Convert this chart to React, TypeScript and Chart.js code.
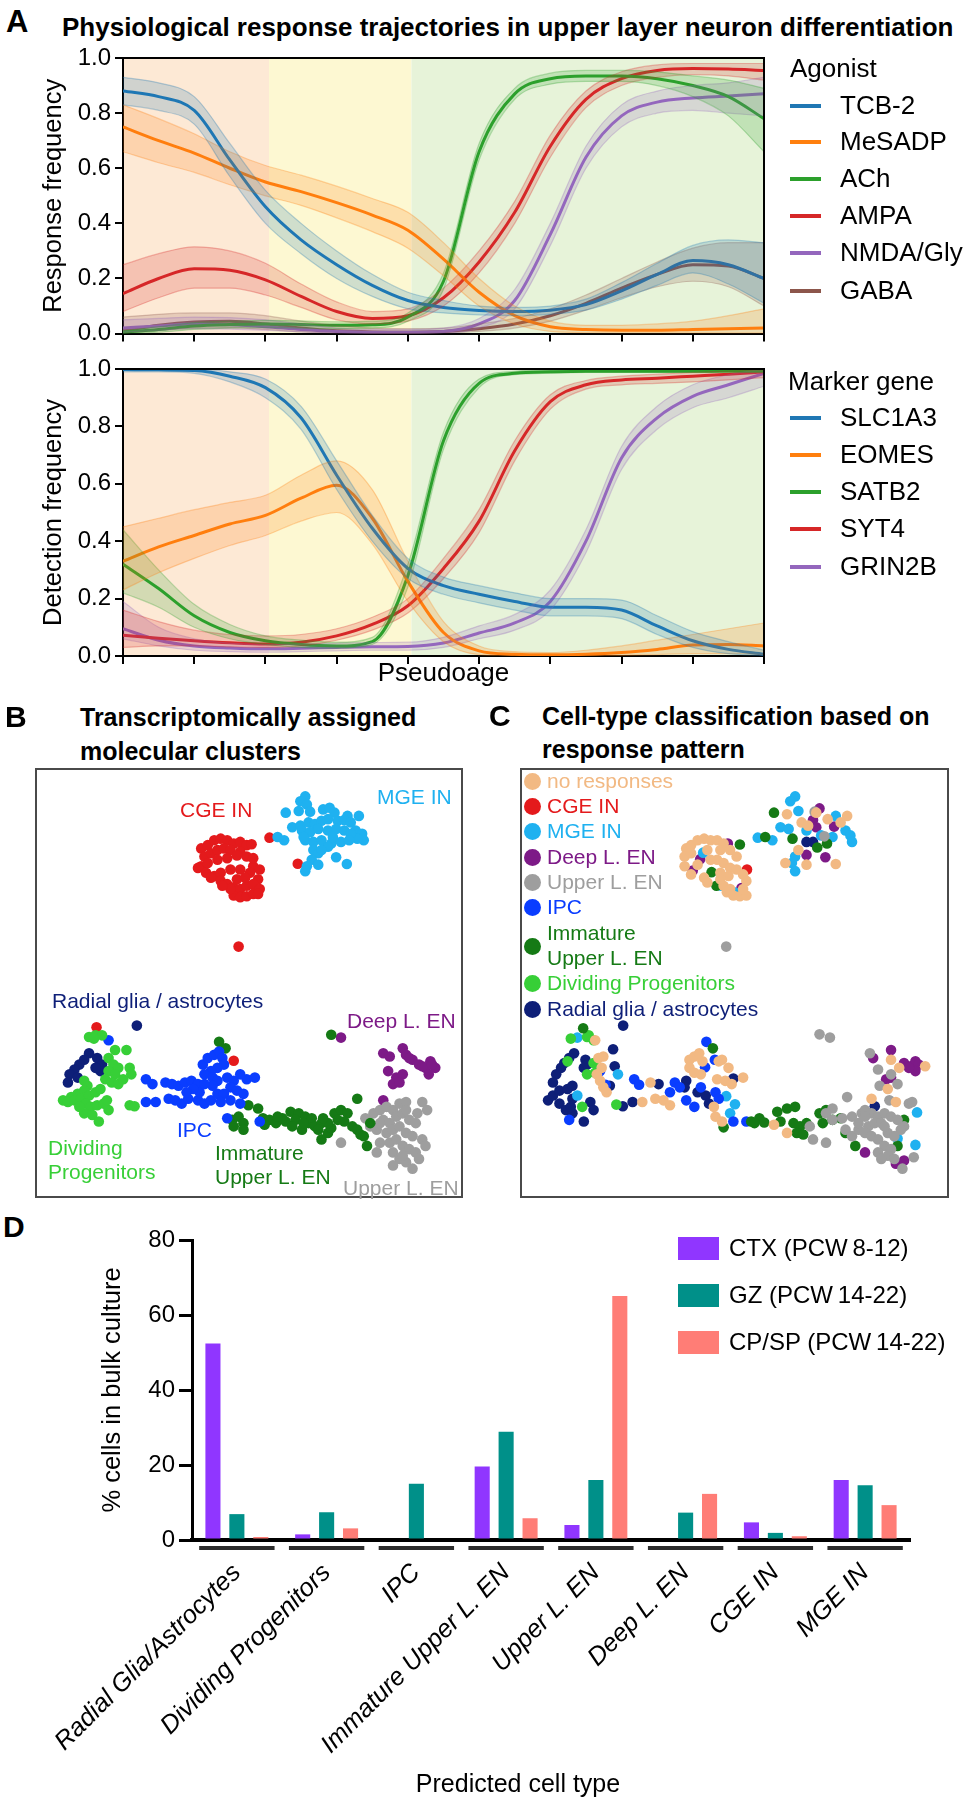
import React, { useEffect, useRef } from "react";
import { Chart, registerables } from "chart.js";
Chart.register(...registerables);

const FONT = "'Liberation Sans', Arial, Helvetica, sans-serif";

// ---------------- Panel A data ----------------
const PSEUDOAGE = [0, 0.5, 1, 1.5, 2, 2.5, 3, 3.5, 4, 4.5, 5, 5.5, 6, 6.5, 7, 7.5, 8, 8.5, 9];
const STAGE_BOUNDS = [0, 2.05, 4.05, 9];
const STAGE_COLORS = ["#fde9d5", "#fdf8d2", "#e7f3d9"];

const AGONISTS = ["TCB-2", "MeSADP", "ACh", "AMPA", "NMDA/Gly", "GABA"];
const AGONIST_COLORS = ["#1f77b4", "#ff7f0e", "#2ca02c", "#d62728", "#9467bd", "#8c564b"];

const TCB2_MEAN = [0.88, 0.86, 0.81, 0.63, 0.46, 0.34, 0.25, 0.175, 0.12, 0.095, 0.084, 0.08, 0.085, 0.105, 0.155, 0.215, 0.265, 0.25, 0.2];
const TCB2_LO = [0.83, 0.81, 0.76, 0.57, 0.40, 0.29, 0.20, 0.135, 0.09, 0.075, 0.068, 0.065, 0.07, 0.085, 0.125, 0.175, 0.22, 0.18, 0.11];
const TCB2_HI = [0.93, 0.91, 0.86, 0.69, 0.52, 0.40, 0.30, 0.215, 0.15, 0.12, 0.10, 0.095, 0.10, 0.125, 0.185, 0.255, 0.32, 0.34, 0.33];

const MESADP_MEAN = [0.75, 0.70, 0.655, 0.60, 0.55, 0.515, 0.475, 0.43, 0.375, 0.27, 0.15, 0.065, 0.025, 0.015, 0.012, 0.012, 0.015, 0.018, 0.02];
const MESADP_LO = [0.66, 0.62, 0.585, 0.54, 0.50, 0.465, 0.42, 0.37, 0.31, 0.21, 0.10, 0.035, 0.008, 0.003, 0.002, 0.002, 0.002, 0.002, 0.002];
const MESADP_HI = [0.83, 0.78, 0.725, 0.66, 0.61, 0.575, 0.535, 0.49, 0.44, 0.33, 0.20, 0.10, 0.045, 0.03, 0.03, 0.035, 0.045, 0.065, 0.09];

const ACH_MEAN = [0.005, 0.015, 0.028, 0.033, 0.035, 0.033, 0.03, 0.032, 0.06, 0.19, 0.66, 0.87, 0.925, 0.935, 0.935, 0.925, 0.9, 0.86, 0.78];
const ACH_LO = [0.0, 0.005, 0.015, 0.02, 0.022, 0.02, 0.018, 0.02, 0.045, 0.16, 0.63, 0.85, 0.905, 0.915, 0.915, 0.9, 0.86, 0.79, 0.66];
const ACH_HI = [0.01, 0.025, 0.04, 0.045, 0.048, 0.046, 0.043, 0.045, 0.075, 0.22, 0.69, 0.89, 0.945, 0.955, 0.955, 0.95, 0.935, 0.92, 0.89];

const AMPA_MEAN = [0.145, 0.2, 0.235, 0.23, 0.195, 0.135, 0.08, 0.055, 0.065, 0.13, 0.26, 0.44, 0.68, 0.85, 0.925, 0.955, 0.962, 0.96, 0.955];
const AMPA_LO = [0.08, 0.13, 0.165, 0.165, 0.14, 0.095, 0.05, 0.035, 0.045, 0.1, 0.22, 0.4, 0.64, 0.82, 0.9, 0.93, 0.94, 0.935, 0.92];
const AMPA_HI = [0.25, 0.29, 0.315, 0.3, 0.255, 0.18, 0.115, 0.08, 0.09, 0.165, 0.3, 0.48, 0.72, 0.88, 0.95, 0.975, 0.98, 0.98, 0.98];

const NMDA_MEAN = [0.02, 0.028, 0.035, 0.032, 0.025, 0.015, 0.008, 0.005, 0.005, 0.008, 0.035, 0.12, 0.36, 0.64, 0.79, 0.84, 0.855, 0.862, 0.87];
const NMDA_LO = [0.005, 0.012, 0.018, 0.016, 0.012, 0.006, 0.002, 0.001, 0.001, 0.002, 0.02, 0.09, 0.32, 0.6, 0.75, 0.8, 0.81, 0.8, 0.79];
const NMDA_HI = [0.05, 0.055, 0.06, 0.058, 0.05, 0.035, 0.02, 0.015, 0.015, 0.02, 0.055, 0.16, 0.4, 0.68, 0.83, 0.88, 0.9, 0.91, 0.93];

const GABA_MEAN = [0.01, 0.03, 0.042, 0.045, 0.035, 0.02, 0.01, 0.006, 0.005, 0.008, 0.018, 0.035, 0.065, 0.11, 0.165, 0.215, 0.25, 0.245, 0.2];
const GABA_LO = [0.002, 0.012, 0.02, 0.022, 0.015, 0.006, 0.002, 0.001, 0.001, 0.003, 0.008, 0.02, 0.045, 0.085, 0.13, 0.17, 0.19, 0.17, 0.1];
const GABA_HI = [0.06, 0.07, 0.075, 0.075, 0.065, 0.045, 0.03, 0.02, 0.018, 0.02, 0.035, 0.055, 0.09, 0.14, 0.2, 0.26, 0.31, 0.33, 0.33];

const MARKERS = ["SLC1A3", "EOMES", "SATB2", "SYT4", "GRIN2B"];
const MARKER_COLORS = ["#1f77b4", "#ff7f0e", "#2ca02c", "#d62728", "#9467bd"];

const SLC1A3_MEAN = [0.998, 0.997, 0.995, 0.975, 0.935, 0.83, 0.63, 0.445, 0.305, 0.245, 0.215, 0.19, 0.17, 0.17, 0.16, 0.105, 0.053, 0.023, 0.006];
const SLC1A3_LO = [0.99, 0.99, 0.985, 0.955, 0.9, 0.79, 0.58, 0.4, 0.27, 0.215, 0.185, 0.16, 0.14, 0.14, 0.13, 0.075, 0.03, 0.008, 0.001];
const SLC1A3_HI = [1.0, 1.0, 1.0, 0.99, 0.965, 0.87, 0.68, 0.49, 0.34, 0.275, 0.245, 0.22, 0.2, 0.2, 0.195, 0.14, 0.085, 0.05, 0.02];

const EOMES_MEAN = [0.33, 0.38, 0.42, 0.46, 0.49, 0.55, 0.595, 0.48, 0.26, 0.082, 0.018, 0.006, 0.004, 0.006, 0.012, 0.023, 0.038, 0.04, 0.035];
const EOMES_LO = [0.23, 0.29, 0.34, 0.385, 0.42, 0.47, 0.5, 0.39, 0.19, 0.05, 0.005, 0.001, 0.0, 0.001, 0.002, 0.005, 0.008, 0.008, 0.005];
const EOMES_HI = [0.45, 0.48, 0.51, 0.535, 0.56, 0.63, 0.68, 0.58, 0.33, 0.12, 0.035, 0.015, 0.012, 0.02, 0.035, 0.055, 0.075, 0.095, 0.115];

const SATB2_MEAN = [0.32, 0.235, 0.14, 0.082, 0.053, 0.04, 0.035, 0.05, 0.28, 0.75, 0.95, 0.985, 0.99, 0.992, 0.992, 0.992, 0.992, 0.993, 0.993];
const SATB2_LO = [0.22, 0.17, 0.1, 0.06, 0.04, 0.03, 0.027, 0.04, 0.24, 0.72, 0.935, 0.98, 0.985, 0.988, 0.988, 0.988, 0.988, 0.989, 0.989];
const SATB2_HI = [0.44, 0.3, 0.18, 0.11, 0.07, 0.055, 0.048, 0.065, 0.32, 0.78, 0.965, 0.992, 0.997, 0.997, 0.997, 0.997, 0.997, 0.997, 0.997];

const SYT4_MEAN = [0.072, 0.062, 0.053, 0.046, 0.042, 0.048, 0.07, 0.11, 0.175, 0.305, 0.47, 0.715, 0.886, 0.945, 0.962, 0.968, 0.975, 0.982, 0.99];
const SYT4_LO = [0.03, 0.035, 0.035, 0.032, 0.03, 0.035, 0.055, 0.09, 0.15, 0.27, 0.43, 0.68, 0.86, 0.93, 0.945, 0.95, 0.955, 0.962, 0.97];
const SYT4_HI = [0.16, 0.12, 0.09, 0.075, 0.07, 0.075, 0.095, 0.135, 0.2, 0.34, 0.51, 0.75, 0.91, 0.96, 0.975, 0.982, 0.988, 0.993, 0.997];

const GRIN2B_MEAN = [0.095, 0.055, 0.035, 0.028, 0.025, 0.027, 0.03, 0.032, 0.033, 0.045, 0.08, 0.115, 0.19, 0.4, 0.69, 0.83, 0.905, 0.945, 0.985];
const GRIN2B_LO = [0.06, 0.035, 0.02, 0.015, 0.013, 0.015, 0.018, 0.02, 0.02, 0.03, 0.06, 0.09, 0.16, 0.36, 0.65, 0.79, 0.865, 0.9, 0.94];
const GRIN2B_HI = [0.19, 0.1, 0.06, 0.045, 0.04, 0.042, 0.045, 0.047, 0.048, 0.065, 0.105, 0.145, 0.23, 0.44, 0.73, 0.87, 0.945, 0.98, 1.0];

// ---------------- Panel B / C data (embedding coordinates) ----------------
const CLASS_NAMES = ["no responses", "CGE IN", "MGE IN", "Deep L. EN", "Upper L. EN", "IPC", "Immature Upper L. EN", "Dividing Progenitors", "Radial glia / astrocytes"];
const CLASS_COLORS = ["#f2b983", "#e41a1c", "#1fb1f0", "#7d1a87", "#9e9e9e", "#0a3dff", "#157a15", "#37cf37", "#0e1f78"];

const B_CGE = [[600,465],[620,455],[640,440],[660,435],[680,440],[700,450],[720,445],[740,455],[755,452],[610,490],[630,480],[650,470],[670,465],[690,470],[720,475],[740,490],[600,520],[620,510],[650,500],[680,495],[760,520],[780,530],[590,525],[615,540],[640,550],[660,540],[690,530],[720,530],[750,540],[775,560],[630,555],[660,565],[680,575],[700,585],[720,590],[740,580],[760,575],[780,590],[700,610],[720,615],[740,612],[760,605],[775,605],[690,590],[665,580],[710,560],[735,555],[760,495],[710,487],[810,432],[897,512],[715,767],[278,1015],[700,1118]];
const B_MGE = [[920,305],[905,320],[925,330],[860,355],[900,350],[935,352],[975,345],[995,340],[1010,355],[1050,365],[1085,365],[880,400],[905,395],[930,385],[950,390],[970,380],[990,375],[1020,380],[1040,378],[1060,385],[1075,410],[1095,420],[1100,440],[1080,435],[910,410],[935,415],[960,405],[990,410],[1015,405],[1040,410],[1060,420],[920,440],[945,445],[970,440],[1000,450],[1030,445],[1055,440],[945,470],[960,480],[940,500],[925,520],[920,535],[960,515],[1015,492],[1048,513],[990,460],[970,470],[835,430],[855,440],[915,430],[1005,430]];
const B_RADIAL = [[402,1010],[255,1095],[240,1115],[225,1130],[210,1145],[195,1160],[190,1185],[280,1110],[295,1130],[290,1150],[275,1140],[220,1170]];
const B_DIVIDING = [[255,1045],[275,1040],[295,1040],[270,1050],[335,1085],[370,1085],[315,1110],[330,1130],[345,1140],[315,1150],[335,1160],[380,1140],[385,1160],[305,1175],[325,1185],[345,1190],[360,1175],[250,1195],[240,1210],[220,1220],[200,1230],[175,1240],[190,1245],[210,1240],[230,1235],[255,1225],[275,1215],[290,1205],[245,1250],[260,1260],[280,1255],[300,1250],[315,1270],[240,1280],[265,1285],[285,1305],[310,1240],[225,1260],[380,1255],[395,1258],[240,1180]];
const B_IPC = [[315,1055],[430,1175],[450,1190],[430,1245],[460,1245],[490,1185],[510,1190],[530,1195],[550,1185],[570,1180],[590,1190],[500,1235],[520,1240],[540,1250],[560,1235],[590,1240],[610,1250],[630,1240],[650,1220],[605,1130],[620,1110],[640,1100],[655,1090],[665,1110],[670,1130],[650,1140],[630,1150],[610,1160],[635,1170],[650,1180],[680,1170],[700,1180],[690,1200],[710,1210],[730,1220],[670,1220],[690,1240],[720,1250],[740,1175],[765,1170],[720,1160],[680,1295],[780,1305],[635,1195],[595,1215],[575,1205],[555,1215],[610,1190],[660,1245]];
const B_IMMATURE = [[655,1060],[675,1080],[1000,1038],[745,1255],[775,1265],[695,1300],[715,1290],[730,1310],[700,1320],[730,1330],[790,1295],[810,1300],[830,1310],[860,1305],[795,1315],[875,1275],[900,1280],[920,1290],[940,1295],[890,1300],[880,1320],[910,1330],[930,1310],[950,1320],[970,1310],[960,1330],[970,1360],[990,1340],[1000,1325],[1010,1280],[1030,1270],[1050,1280],[1020,1300],[1040,1305],[1065,1320],[1080,1235],[1080,1330],[1090,1345],[1110,1380],[1120,1310],[1100,1350],[850,1295],[835,1290],[915,1310],[990,1310],[975,1295]];
const B_DEEP = [[1030,1047],[1160,1095],[1180,1105],[1220,1080],[1230,1100],[1250,1115],[1270,1130],[1290,1140],[1305,1120],[1320,1140],[1300,1160],[1280,1135],[1175,1150],[1200,1170],[1220,1160],[1190,1190],[1210,1185],[1160,1240],[1240,1110],[1310,1130]];
const B_UPPER = [[1130,1280],[1150,1270],[1170,1260],[1190,1270],[1210,1250],[1230,1245],[1280,1245],[1295,1270],[1160,1300],[1180,1310],[1200,1290],[1220,1280],[1240,1300],[1260,1310],[1140,1330],[1170,1340],[1190,1330],[1210,1320],[1230,1340],[1250,1350],[1280,1360],[1290,1380],[1150,1370],[1180,1370],[1200,1360],[1220,1380],[1240,1390],[1260,1400],[1140,1400],[1190,1400],[1210,1420],[1230,1430],[1250,1450],[1270,1420],[1120,1320],[1105,1295],[1030,1370],[1230,1270],[1265,1280],[1190,1440],[1150,1310],[1220,1410]];

const C_NONE = [[585,465],[600,455],[620,440],[640,435],[660,440],[680,440],[700,450],[580,490],[600,480],[650,470],[690,470],[720,470],[740,490],[580,520],[620,515],[680,500],[700,510],[720,525],[740,530],[600,545],[640,555],[690,540],[715,550],[760,545],[770,565],[650,570],[700,580],[710,600],[730,610],[750,612],[770,610],[720,590],[760,590],[660,500],[690,560],[985,355],[1080,365],[1020,375],[940,385],[960,395],[890,510],[955,515],[1045,513],[930,470],[895,360],[1060,385],[315,1110],[330,1105],[325,1140],[310,1160],[320,1180],[330,1200],[340,1215],[305,1055],[450,1245],[475,1185],[490,1235],[515,1240],[535,1255],[595,1115],[610,1105],[625,1095],[635,1120],[595,1140],[610,1155],[630,1160],[685,1120],[695,1115],[680,1175],[705,1180],[725,1190],[760,1170],[675,1290],[695,1305],[670,1260],[855,1315],[895,1340],[1155,1235],[1230,1245],[1215,1115],[1240,1140],[1320,1135],[1205,1205],[715,1140]];
const C_UPPER = [[1010,428],[980,352],[708,767],[995,1037],[1027,1047],[1150,1095],[1175,1145],[1215,1160],[1180,1195],[1235,1190],[1080,1230],[1210,1240],[1270,1250],[1280,1245],[1035,1265],[1015,1280],[1035,1300],[1065,1295],[1095,1290],[1125,1280],[1135,1270],[1155,1280],[1175,1290],[1195,1280],[1215,1290],[1235,1300],[1255,1320],[1075,1330],[1095,1350],[1115,1330],[1145,1320],[1165,1310],[1185,1310],[1135,1340],[1155,1350],[1175,1360],[1205,1340],[1225,1350],[1245,1330],[1195,1380],[1215,1390],[1175,1400],[1205,1410],[1185,1420],[1225,1420],[1250,1450],[1285,1415],[965,1320],[975,1360],[1015,1370],[1115,1310],[1135,1290],[1195,1320]];
const C_CGE = [[772,530]];
const C_MGE = [[920,305],[905,320],[930,350],[875,400],[900,405],[955,410],[1045,365],[1075,410],[1090,425],[1095,445],[1035,430],[920,490],[910,510],[920,535],[805,432],[850,440],[1000,425],[637,478],[693,580],[733,600],[250,1047],[375,1160],[250,1225],[708,1227],[735,1252],[720,1280],[1295,1277],[1235,1357],[1290,1377]];
const C_DEEP = [[713,450],[628,498],[605,533],[755,587],[995,342],[975,378],[985,400],[1040,398],[955,485],[1013,492],[1160,1110],[1215,1085],[1255,1125],[1275,1135],[1290,1120],[1300,1130],[1290,1150],[1270,1140],[1200,1175],[1215,1170],[1135,1400],[1230,1435],[1255,1425]];
const C_IPC = [[647,1060],[673,1115],[643,1138],[320,1150],[337,1192],[425,1175],[440,1192],[535,1215],[550,1185],[565,1200],[585,1240],[610,1260],[630,1200],[675,1215],[685,1235],[730,1305],[770,1305],[225,1300]];
const C_IMMATURE = [[750,453],[663,538],[678,580],[855,355],[828,430],[912,435],[988,462],[1018,450],[268,1018],[667,1080],[700,1323],[785,1305],[810,1295],[795,1310],[825,1308],[865,1275],[895,1265],[920,1260],[875,1305],[915,1310],[935,1320],[925,1340],[955,1310],[945,1345],[995,1280],[1015,1270],[1035,1300],[1060,1295],[1005,1310],[1105,1380],[1075,1340],[1235,1380],[1255,1300]];
const C_DIVIDING = [[230,1050],[280,1045],[300,1055],[285,1040],[300,1125],[280,1160],[305,1155],[370,1253],[265,1260],[220,1120]];
const C_RADIAL = [[955,445],[975,445],[391,1010],[360,1083],[240,1095],[225,1110],[210,1125],[200,1140],[185,1160],[175,1185],[275,1115],[270,1140],[280,1130],[365,1135],[350,1195],[160,1240],[175,1225],[195,1210],[220,1205],[235,1195],[195,1250],[215,1270],[235,1280],[230,1260],[235,1235],[270,1305],[290,1245],[300,1270],[390,1258],[420,1245],[500,1190],[585,1180],[580,1200],[620,1215],[645,1225],[730,1173],[655,1250],[1165,1258]];

// ---------------- Panel D data ----------------
const CELL_TYPES = ["Radial Glia/Astrocytes", "Dividing Progenitors", "IPC", "Immature Upper L. EN", "Upper L. EN", "Deep L. EN", "CGE IN", "MGE IN"];
const BULK_SOURCES = ["CTX (PCW\u20098-12)", "GZ (PCW\u200914-22)", "CP/SP (PCW\u200914-22)"];
const BULK_COLORS = ["#9036ff", "#009089", "#ff7d76"];
const CTX_PCT = [52.4, 1.5, 0, 19.6, 4.0, 0, 4.7, 16.0];
const GZ_PCT = [6.9, 7.4, 15.0, 28.9, 16.0, 7.3, 1.9, 14.6];
const CPSP_PCT = [0.8, 3.1, 0, 5.8, 65.1, 12.3, 1.0, 9.3];
const BULK_Y_TICKS = [0, 20, 40, 60, 80];

// ---------------- helpers ----------------
function rgba(hex: string, a: number) {
  const n = parseInt(hex.slice(1), 16);
  return `rgba(${(n >> 16) & 255},${(n >> 8) & 255},${n & 255},${a})`;
}

const stagePlugin = {
  id: "stages",
  beforeDraw(chart: any) {
    const { ctx, chartArea, scales } = chart;
    const x = scales.x;
    ctx.save();
    for (let i = 0; i < STAGE_COLORS.length; i++) {
      const x0 = x.getPixelForValue(STAGE_BOUNDS[i]);
      const x1 = x.getPixelForValue(STAGE_BOUNDS[i + 1]);
      ctx.fillStyle = STAGE_COLORS[i];
      ctx.fillRect(x0, chartArea.top, x1 - x0, chartArea.bottom - chartArea.top);
    }
    ctx.restore();
  },
};

const framePlugin = {
  id: "frame",
  afterDraw(chart: any) {
    const { ctx, chartArea } = chart;
    ctx.save();
    ctx.strokeStyle = "#000";
    ctx.lineWidth = 2;
    ctx.beginPath();
    ctx.moveTo(chartArea.left, chartArea.top);
    ctx.lineTo(chartArea.right, chartArea.top);
    ctx.lineTo(chartArea.right, chartArea.bottom);
    ctx.stroke();
    ctx.restore();
  },
};

const boxPlugin = {
  id: "box",
  afterDraw(chart: any) {
    const { ctx, width, height } = chart;
    ctx.save();
    ctx.strokeStyle = "#4a4a4a";
    ctx.lineWidth = 2;
    ctx.strokeRect(1, 1, width - 2, height - 2);
    ctx.restore();
  },
};

const underlinePlugin = {
  id: "underline",
  afterDraw(chart: any) {
    const { ctx, chartArea, scales } = chart;
    const x = scales.x;
    const half = (chartArea.right - chartArea.left) / CELL_TYPES.length * 0.42;
    ctx.save();
    ctx.strokeStyle = "#2d2d2d";
    ctx.lineWidth = 4;
    for (let i = 0; i < CELL_TYPES.length; i++) {
      const cx = x.getPixelForTick(i);
      ctx.beginPath();
      ctx.moveTo(cx - half, chartArea.bottom + 8);
      ctx.lineTo(cx + half, chartArea.bottom + 8);
      ctx.stroke();
    }
    ctx.restore();
  },
};

type Series = { name: string; color: string; mean: number[]; lo: number[]; hi: number[] };

const AGONIST_SERIES: Series[] = [
  { name: AGONISTS[0], color: AGONIST_COLORS[0], mean: TCB2_MEAN, lo: TCB2_LO, hi: TCB2_HI },
  { name: AGONISTS[1], color: AGONIST_COLORS[1], mean: MESADP_MEAN, lo: MESADP_LO, hi: MESADP_HI },
  { name: AGONISTS[2], color: AGONIST_COLORS[2], mean: ACH_MEAN, lo: ACH_LO, hi: ACH_HI },
  { name: AGONISTS[3], color: AGONIST_COLORS[3], mean: AMPA_MEAN, lo: AMPA_LO, hi: AMPA_HI },
  { name: AGONISTS[4], color: AGONIST_COLORS[4], mean: NMDA_MEAN, lo: NMDA_LO, hi: NMDA_HI },
  { name: AGONISTS[5], color: AGONIST_COLORS[5], mean: GABA_MEAN, lo: GABA_LO, hi: GABA_HI },
];
const MARKER_SERIES: Series[] = [
  { name: MARKERS[0], color: MARKER_COLORS[0], mean: SLC1A3_MEAN, lo: SLC1A3_LO, hi: SLC1A3_HI },
  { name: MARKERS[1], color: MARKER_COLORS[1], mean: EOMES_MEAN, lo: EOMES_LO, hi: EOMES_HI },
  { name: MARKERS[2], color: MARKER_COLORS[2], mean: SATB2_MEAN, lo: SATB2_LO, hi: SATB2_HI },
  { name: MARKERS[3], color: MARKER_COLORS[3], mean: SYT4_MEAN, lo: SYT4_LO, hi: SYT4_HI },
  { name: MARKERS[4], color: MARKER_COLORS[4], mean: GRIN2B_MEAN, lo: GRIN2B_LO, hi: GRIN2B_HI },
];

function trajectoryConfig(series: Series[], yTitle: string, xTitle: string | null, padTop: number, xAxisHeight: number) {
  const pts = (arr: number[]) => PSEUDOAGE.map((x, i) => ({ x, y: arr[i] }));
  const datasets: any[] = [];
  series.forEach((s) => {
    datasets.push({ data: pts(s.lo), borderColor: rgba(s.color, 0.3), borderWidth: 1.2, fill: false, pointRadius: 0, cubicInterpolationMode: "monotone" });
    datasets.push({ data: pts(s.hi), borderColor: rgba(s.color, 0.3), borderWidth: 1.2, backgroundColor: rgba(s.color, 0.2), fill: "-1", pointRadius: 0, cubicInterpolationMode: "monotone" });
  });
  series.forEach((s) => {
    datasets.push({ label: s.name, data: pts(s.mean), borderColor: s.color, borderWidth: 3, fill: false, pointRadius: 0, cubicInterpolationMode: "monotone" });
  });
  return {
    type: "line",
    data: { datasets },
    options: {
      animation: false,
      responsive: false,
      events: [],
      layout: { padding: { top: padTop, right: 203, left: 0, bottom: 0 } },
      plugins: { legend: { display: false }, tooltip: { enabled: false } },
      scales: {
        x: {
          type: "linear",
          min: 0,
          max: 9,
          ticks: { stepSize: 1, callback: () => "", font: { family: FONT, size: 10 } },
          grid: { drawOnChartArea: false, color: "#000", lineWidth: 2, tickLength: 8 },
          border: { color: "#000", width: 2 },
          title: xTitle
            ? { display: true, text: xTitle, color: "#000", font: { family: FONT, size: 26 }, padding: { top: 0, bottom: 11 } }
            : { display: false },
          afterFit: (s: any) => { s.height = xAxisHeight; },
        },
        y: {
          min: 0,
          max: 1,
          ticks: { stepSize: 0.2, callback: (v: any) => Number(v).toFixed(1), color: "#000", font: { family: FONT, size: 24 }, padding: 4 },
          grid: { drawOnChartArea: false, color: "#000", lineWidth: 2, tickLength: 8 },
          border: { color: "#000", width: 2 },
          title: { display: true, text: yTitle, color: "#000", font: { family: FONT, size: 25.5 }, padding: { top: 39, bottom: 0 } },
          afterFit: (s: any) => { s.width = 123; },
        },
      },
    },
    plugins: [stagePlugin, framePlugin],
  };
}

function scatterConfig(groups: { pts: number[][]; color: string }[], xMin: number, xMax: number) {
  return {
    type: "scatter",
    data: {
      datasets: groups.map((g) => ({
        data: g.pts.map(([x, y]) => ({ x, y })),
        backgroundColor: g.color,
        borderWidth: 0,
        pointRadius: 5.3,
      })),
    },
    options: {
      animation: false,
      responsive: false,
      events: [],
      layout: { padding: 0 },
      plugins: { legend: { display: false }, tooltip: { enabled: false } },
      scales: {
        x: { type: "linear", display: false, min: xMin, max: xMax },
        y: { type: "linear", display: false, min: 234, max: 1524, reverse: true },
      },
    },
    plugins: [boxPlugin],
  };
}

function barConfig() {
  return {
    type: "bar",
    data: {
      labels: CELL_TYPES,
      datasets: [CTX_PCT, GZ_PCT, CPSP_PCT].map((d, i) => ({
        label: BULK_SOURCES[i],
        data: d,
        backgroundColor: BULK_COLORS[i],
        categoryPercentage: 0.8,
        barPercentage: 0.63,
      })),
    },
    options: {
      animation: false,
      responsive: false,
      events: [],
      layout: { padding: { top: 40, right: 57, left: 0, bottom: 0 } },
      plugins: { legend: { display: false }, tooltip: { enabled: false } },
      scales: {
        x: {
          z: 1,
          grid: { display: false, drawTicks: false },
          border: { display: true, color: "#000", width: 4 },
          ticks: { autoSkip: false, minRotation: 45, maxRotation: 45, color: "#000", font: { family: FONT, size: 25.5, style: "italic" }, padding: 18 },
          afterFit: (s: any) => { s.height = 260; },
        },
        y: {
          min: 0,
          max: 80,
          afterBuildTicks: (s: any) => { s.ticks = BULK_Y_TICKS.map((v) => ({ value: v })); },
          ticks: { color: "#000", font: { family: FONT, size: 24 }, padding: 4 },
          grid: { drawOnChartArea: false, color: "#000", lineWidth: 3, tickLength: 13 },
          border: { color: "#000", width: 3 },
          title: { display: true, text: "% cells in bulk culture", color: "#000", font: { family: FONT, size: 25.5 }, padding: { top: 98, bottom: 0 } },
          afterFit: (s: any) => { s.width = 192; },
        },
      },
    },
    plugins: [underlinePlugin],
  };
}

function ChartBox({ left, top, width, height, make }: any) {
  const ref = useRef<HTMLCanvasElement>(null);
  useEffect(() => {
    const chart = new Chart(ref.current as HTMLCanvasElement, make());
    return () => chart.destroy();
  }, []);
  return (
    <div style={{ position: "absolute", left, top, width, height }}>
      <canvas ref={ref} width={width} height={height} style={{ display: "block", width, height }} />
    </div>
  );
}

function Txt({ x, y, size, color = "#000", bold = false, center = false, children }: any) {
  return (
    <div
      style={{
        position: "absolute",
        left: x,
        top: y - size * 0.6,
        fontFamily: FONT,
        fontSize: size,
        lineHeight: `${size * 1.2}px`,
        color,
        fontWeight: bold ? 700 : 400,
        whiteSpace: "nowrap",
        transform: center ? "translateX(-50%)" : undefined,
      }}
    >
      {children}
    </div>
  );
}

const AGONIST_LEGEND_Y = [106, 142, 179, 216, 253, 291];
const MARKER_LEGEND_Y = [418, 455, 492, 529, 567];
const C_LEGEND_Y = [781, 806, 831, 857, 882, 907, 946, 983, 1009];

export default function App() {
  const bGroups = [
    { pts: B_DIVIDING, color: CLASS_COLORS[7] },
    { pts: B_RADIAL, color: CLASS_COLORS[8] },
    { pts: B_IPC, color: CLASS_COLORS[5] },
    { pts: B_IMMATURE, color: CLASS_COLORS[6] },
    { pts: B_UPPER, color: CLASS_COLORS[4] },
    { pts: B_DEEP, color: CLASS_COLORS[3] },
    { pts: B_MGE, color: CLASS_COLORS[2] },
    { pts: B_CGE, color: CLASS_COLORS[1] },
  ];
  const cGroups = [
    { pts: C_NONE, color: CLASS_COLORS[0] },
    { pts: C_UPPER, color: CLASS_COLORS[4] },
    { pts: C_IMMATURE, color: CLASS_COLORS[6] },
    { pts: C_DIVIDING, color: CLASS_COLORS[7] },
    { pts: C_IPC, color: CLASS_COLORS[5] },
    { pts: C_MGE, color: CLASS_COLORS[2] },
    { pts: C_DEEP, color: CLASS_COLORS[3] },
    { pts: C_RADIAL, color: CLASS_COLORS[8] },
    { pts: C_CGE, color: CLASS_COLORS[1] },
  ];

  return (
    <div style={{ position: "absolute", left: 0, top: 0, width: 967, height: 1800, background: "#fff", overflow: "hidden" }}>
      {/* Panel A */}
      <Txt x={6} y={22} size={31} bold>A</Txt>
      <Txt x={62} y={28} size={26} bold>Physiological response trajectories in upper layer neuron differentiation</Txt>
      <ChartBox left={0} top={0} width={967} height={352} make={() => trajectoryConfig(AGONIST_SERIES, "Response frequency", null, 58, 9)} />
      <ChartBox left={0} top={345} width={967} height={355} make={() => trajectoryConfig(MARKER_SERIES, "Detection frequency", "Pseudoage", 24, 44)} />
      <Txt x={790} y={69} size={26}>Agonist</Txt>
      {AGONISTS.map((n, i) => (
        <React.Fragment key={n}>
          <div style={{ position: "absolute", left: 790, top: AGONIST_LEGEND_Y[i] - 2, width: 31, height: 4, background: AGONIST_COLORS[i] }} />
          <Txt x={840} y={AGONIST_LEGEND_Y[i]} size={26}>{n}</Txt>
        </React.Fragment>
      ))}
      <Txt x={788} y={382} size={26}>Marker gene</Txt>
      {MARKERS.map((n, i) => (
        <React.Fragment key={n}>
          <div style={{ position: "absolute", left: 790, top: MARKER_LEGEND_Y[i] - 2, width: 31, height: 4, background: MARKER_COLORS[i] }} />
          <Txt x={840} y={MARKER_LEGEND_Y[i]} size={26}>{n}</Txt>
        </React.Fragment>
      ))}

      {/* Panel B */}
      <Txt x={5} y={717} size={30} bold>B</Txt>
      <Txt x={80} y={717} size={25} bold>Transcriptomically assigned</Txt>
      <Txt x={80} y={751} size={25} bold>molecular clusters</Txt>
      <ChartBox left={35} top={768} width={428} height={430} make={() => scatterConfig(bGroups, 105, 1389)} />
      <Txt x={180} y={810} size={21} color={CLASS_COLORS[1]}>CGE IN</Txt>
      <Txt x={377} y={797} size={21} color={CLASS_COLORS[2]}>MGE IN</Txt>
      <Txt x={52} y={1001} size={21} color={CLASS_COLORS[8]}>Radial glia / astrocytes</Txt>
      <Txt x={347} y={1021} size={21} color={CLASS_COLORS[3]}>Deep L. EN</Txt>
      <Txt x={177} y={1130} size={21} color={CLASS_COLORS[5]}>IPC</Txt>
      <Txt x={48} y={1148} size={21} color={CLASS_COLORS[7]}>Dividing</Txt>
      <Txt x={48} y={1172} size={21} color={CLASS_COLORS[7]}>Progenitors</Txt>
      <Txt x={215} y={1153} size={21} color={CLASS_COLORS[6]}>Immature</Txt>
      <Txt x={215} y={1177} size={21} color={CLASS_COLORS[6]}>Upper L. EN</Txt>
      <Txt x={343} y={1188} size={21} color={CLASS_COLORS[4]}>Upper L. EN</Txt>

      {/* Panel C */}
      <Txt x={489} y={716} size={30} bold>C</Txt>
      <Txt x={542} y={716} size={25} bold>Cell-type classification based on</Txt>
      <Txt x={542} y={749} size={25} bold>response pattern</Txt>
      <ChartBox left={520} top={768} width={429} height={430} make={() => scatterConfig(cGroups, 90, 1377)} />
      {CLASS_NAMES.map((n, i) => (
        <React.Fragment key={n}>
          <div style={{ position: "absolute", left: 524, top: C_LEGEND_Y[i] - 8.5, width: 17, height: 17, borderRadius: "50%", background: CLASS_COLORS[i] }} />
          {i === 6 ? (
            <>
              <Txt x={547} y={933} size={21} color={CLASS_COLORS[i]}>Immature</Txt>
              <Txt x={547} y={958} size={21} color={CLASS_COLORS[i]}>Upper L. EN</Txt>
            </>
          ) : (
            <Txt x={547} y={C_LEGEND_Y[i]} size={21} color={CLASS_COLORS[i]}>{n}</Txt>
          )}
        </React.Fragment>
      ))}

      {/* Panel D */}
      <Txt x={3} y={1227} size={30} bold>D</Txt>
      <ChartBox left={0} top={1200} width={967} height={600} make={barConfig} />
      {BULK_SOURCES.map((n, i) => (
        <React.Fragment key={n}>
          <div style={{ position: "absolute", left: 678, top: 1248 + i * 47 - 11.5, width: 41, height: 23, background: BULK_COLORS[i] }} />
          <Txt x={729} y={1248 + i * 47} size={24}>{n}</Txt>
        </React.Fragment>
      ))}
      <Txt x={518} y={1783} size={25} center>Predicted cell type</Txt>
    </div>
  );
}
